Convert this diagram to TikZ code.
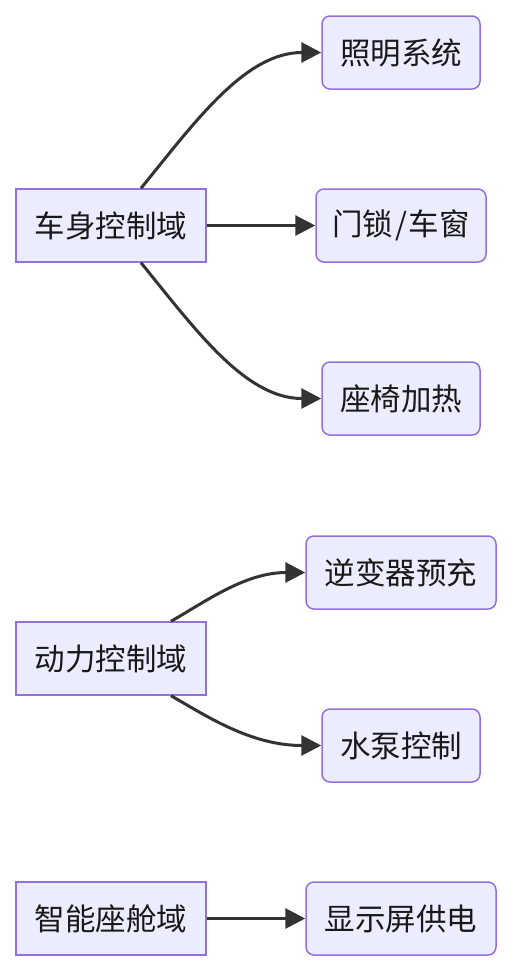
\documentclass[tikz,border=0pt]{standalone}
\usepackage{fontspec}
\setmainfont{Noto Sans CJK SC}
\usetikzlibrary{arrows.meta,calc}
\definecolor{nodefill}{HTML}{ECECFF}
\definecolor{nodedraw}{HTML}{9370DB}
\definecolor{edgecol}{HTML}{333333}
\tikzset{
  box/.style={draw=nodedraw, fill=nodefill, line width=1.5pt, minimum height=73pt, inner sep=0pt, font=\fontsize{30.5}{36}\selectfont, text=black!90},
  sqbox/.style={box, rectangle},
  rbox/.style={box, rounded corners=8pt},
  edge/.style={draw=edgecol, line width=3pt, -{Triangle[length=20pt,width=20pt]}}
}
\begin{document}
\begin{tikzpicture}[x=1pt,y=-1pt]
\useasboundingbox (0,0) rectangle (512,972);
\node[sqbox, minimum width=190pt] (body) at (111,225.5) {车身控制域};
\node[rbox, minimum width=158pt] (light) at (401,52.5) {照明系统};
\node[rbox, minimum width=170pt] (door) at (401,225.5) {门锁\kern2pt/\kern2pt车窗};
\node[rbox, minimum width=158pt] (seat) at (401,398.5) {座椅加热};
\node[sqbox, minimum width=190pt] (power) at (111,658.5) {动力控制域};
\node[rbox, minimum width=190pt] (inv) at (401,572.5) {逆变器预充};
\node[rbox, minimum width=158pt] (pump) at (401,745.5) {水泵控制};
\node[sqbox, minimum width=190pt] (cabin) at (111,918.5) {智能座舱域};
\node[rbox, minimum width=190pt] (disp) at (401,918.5) {显示屏供电};

\draw[edge] ($(body.north)+(30,0)$) .. controls (195,122) and (245,52.5) .. (light.west);
\draw[edge] (body.east) -- (door.west);
\draw[edge] ($(body.south)+(30,0)$) .. controls (195,329) and (245,398.5) .. (seat.west);
\draw[edge] ($(power.north)+(60,0)$) .. controls (205,602) and (245,572.5) .. (inv.west);
\draw[edge] ($(power.south)+(60,0)$) .. controls (205,715) and (250,745.5) .. (pump.west);
\draw[edge] (cabin.east) -- (disp.west);
\end{tikzpicture}
\end{document}
